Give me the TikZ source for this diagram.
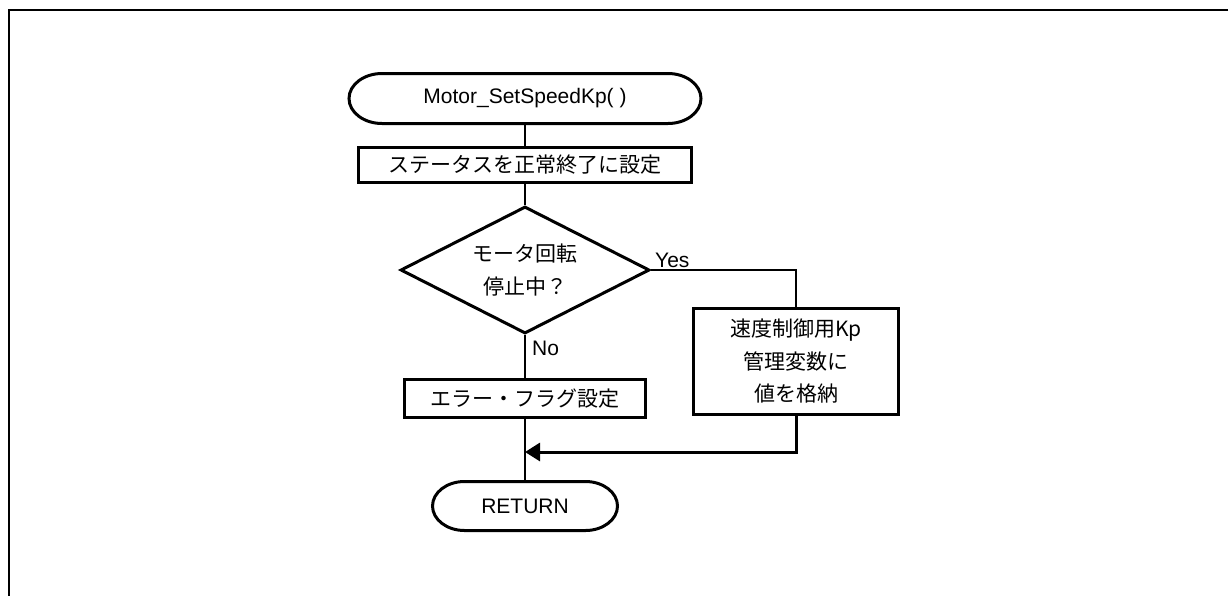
\documentclass[tikz,border=0pt]{standalone}
\usepackage{fontspec}
\setmainfont{Liberation Sans}
\newfontfamily\jp{Noto Sans CJK JP}
\usetikzlibrary{shapes.geometric,arrows.meta}
\begin{document}
\begin{tikzpicture}[x=1pt,y=-1pt,
  font=\fontsize{21}{32.5}\selectfont,
  jptext/.style={font=\jp\fontsize{21}{32.5}\selectfont},
  thickln/.style={line width=3pt},
  thinln/.style={line width=1.6pt},
  procbox/.style={draw,line width=3pt,rectangle,inner sep=0pt,align=center,jptext},
  termbox/.style={rectangle,inner sep=0pt},
  decbox/.style={draw,line width=3pt,diamond,aspect=1.97,inner sep=0pt,align=center,
    minimum width=249pt,minimum height=127pt,jptext},
  lbl/.style={inner sep=0pt,anchor=base west}
]
\useasboundingbox (0,0) rectangle (1231,595);
% frame
\draw[line width=2pt] (1228,10) -- (9,10) -- (9,597);

% terminals (text nodes)
\node[termbox,minimum width=355pt,minimum height=53pt] (start) at (525,98.5) {Motor\_SetSpeedKp( )};
\node[termbox,minimum width=188pt,minimum height=52pt] (ret) at (525,506) {RETURN};
% terminal outlines
\draw[thickln] (382,73.5) -- (668,73.5)
  .. controls (686.2,73.5) and (701,84.7) .. (701,98.5)
  .. controls (701,112.3) and (686.2,123.5) .. (668,123.5)
  -- (382,123.5)
  .. controls (363.8,123.5) and (349,112.3) .. (349,98.5)
  .. controls (349,84.7) and (363.8,73.5) .. cycle;
\draw[thickln] (464.5,481.5) -- (585.5,481.5)
  .. controls (603.2,481.5) and (617.5,492.5) .. (617.5,506)
  .. controls (617.5,519.5) and (603.2,530.5) .. (585.5,530.5)
  -- (464.5,530.5)
  .. controls (446.8,530.5) and (432.5,519.5) .. (432.5,506)
  .. controls (432.5,492.5) and (446.8,481.5) .. cycle;

% process boxes
\node[procbox,minimum width=333pt,minimum height=35pt] (box1) at (525,165) {ステータスを正常終了に設定};
\node[decbox] (dec) at (525,270) {モータ回転\\停止中？};
\node[procbox,minimum width=205pt,minimum height=106pt] (rbox) at (796,361.5) {速度制御用Kp\\管理変数に\\値を格納};
\node[procbox,minimum width=241pt,minimum height=38pt] (box2) at (525,398.5) {エラー・フラグ設定};
\coordinate (merge) at (525,452);

% labels
\node[lbl] (yes) at (655,267) {Yes};
\node[lbl] (no) at (532,355) {No};

% connectors
\draw[thinln] (start) -- (box1);
\draw[thinln] (box1) -- (dec);
\draw[thinln] (dec) -- (box2);
\draw[thinln] (box2) -- (ret);
\draw[thinln] (dec.east) -| (rbox.north);
\draw[thickln,-{Triangle[length=15pt,width=18pt]}] (rbox.south) |- (merge);
\end{tikzpicture}
\end{document}
